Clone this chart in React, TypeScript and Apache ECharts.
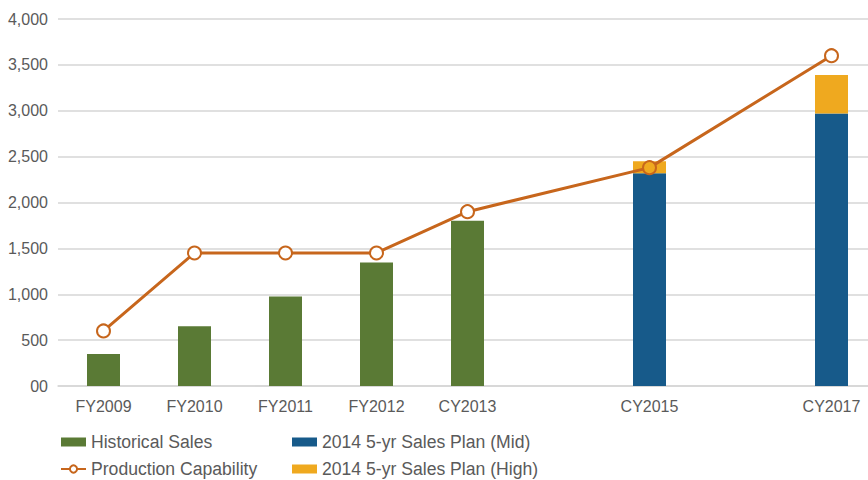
import React, { useEffect, useRef } from "react";
import * as echarts from "echarts";

const categories = ["FY2009", "FY2010", "FY2011", "FY2012", "CY2013", "CY2014", "CY2015", "CY2016", "CY2017"];
const shownLabels = ["FY2009", "FY2010", "FY2011", "FY2012", "CY2013", "CY2015", "CY2017"];
const historicalSales = [350, 650, 975, 1345, 1800, null, null, null, null];
const planMid = [null, null, null, null, null, null, 2320, null, 2970];
const planHighExtra = [null, null, null, null, null, null, 130, null, 420];
const productionCapability = [600, 1450, 1450, 1450, 1900, null, 2380, null, 3600];
const yTicks = [0, 500, 1000, 1500, 2000, 2500, 3000, 3500, 4000];

const GREEN = "#5a7a35";
const BLUE = "#175a8a";
const YELLOW = "#efa91f";
const ORANGE = "#c7661c";
const TEXT = "#5a5a5a";
const GRID = "#d6d6d6";

export default function App() {
  const ref = useRef<HTMLDivElement>(null);
  useEffect(() => {
    if (!ref.current) return;
    const chart = echarts.init(ref.current, undefined, { renderer: "svg" });
    const font = "'Liberation Sans', Arial, Helvetica, sans-serif";
    const legendText = { color: TEXT, fontFamily: font, fontSize: 17.6, lineHeight: 18 };
    chart.setOption({
      animation: false,
      grid: { left: 58, top: 19, width: 819, height: 367, containLabel: false },
      xAxis: {
        type: "category",
        data: categories,
        boundaryGap: true,
        axisLine: { lineStyle: { color: GRID, width: 1.5 } },
        axisTick: { show: false },
        axisLabel: {
          color: TEXT,
          fontFamily: font,
          fontSize: 16,
          margin: 12,
          interval: (i: number, v: string) => shownLabels.includes(v),
        },
      },
      yAxis: {
        type: "value",
        min: yTicks[0],
        max: yTicks[yTicks.length - 1],
        interval: 500,
        axisLine: { show: false },
        axisTick: { show: false },
        splitLine: { lineStyle: { color: GRID, width: 1.5 } },
        axisLabel: {
          color: TEXT,
          fontFamily: font,
          fontSize: 16,
          margin: 10,
          formatter: (v: number) => (v === 0 ? "00" : v.toLocaleString("en-US")),
        },
      },
      legend: [
        {
          left: 60,
          top: 433,
          height: 46,
          padding: 0,
          orient: "vertical",
          itemWidth: 25,
          itemHeight: 9,
          itemGap: 9,
          textStyle: legendText,
          data: [{ name: "Historical Sales", icon: "rect" }, "Production Capability"],
        },
        {
          left: 292,
          top: 433,
          height: 46,
          padding: 0,
          orient: "vertical",
          itemWidth: 25,
          itemHeight: 9,
          itemGap: 9,
          icon: "rect",
          textStyle: legendText,
          data: ["2014 5-yr Sales Plan (Mid)", "2014 5-yr Sales Plan (High)"],
        },
      ],
      series: [
        {
          name: "Historical Sales",
          type: "bar",
          stack: "s",
          barWidth: 33,
          data: historicalSales,
          itemStyle: { color: GREEN },
        },
        {
          name: "2014 5-yr Sales Plan (Mid)",
          type: "bar",
          stack: "s",
          barWidth: 33,
          data: planMid,
          itemStyle: { color: BLUE },
        },
        {
          name: "2014 5-yr Sales Plan (High)",
          type: "bar",
          stack: "s",
          barWidth: 33,
          data: planHighExtra,
          itemStyle: { color: YELLOW },
        },
        {
          name: "Production Capability",
          type: "line",
          z: 5,
          connectNulls: true,
          symbol: "circle",
          symbolSize: 13,
          data: productionCapability.map((v, i) =>
            categories[i] === "CY2015"
              ? { value: v, itemStyle: { color: YELLOW, borderColor: ORANGE, borderWidth: 2 } }
              : v
          ),
          lineStyle: { color: ORANGE, width: 3 },
          itemStyle: { color: "#ffffff", borderColor: ORANGE, borderWidth: 2 },
        },
      ],
    });
    return () => chart.dispose();
  }, []);
  return (
    <div style={{ position: "fixed", left: 0, top: 0, width: 868, height: 480, overflow: "hidden", background: "#ffffff" }}>
      <div ref={ref} style={{ position: "absolute", left: 0, top: 0, width: 880, height: 480 }} />
    </div>
  );
}
